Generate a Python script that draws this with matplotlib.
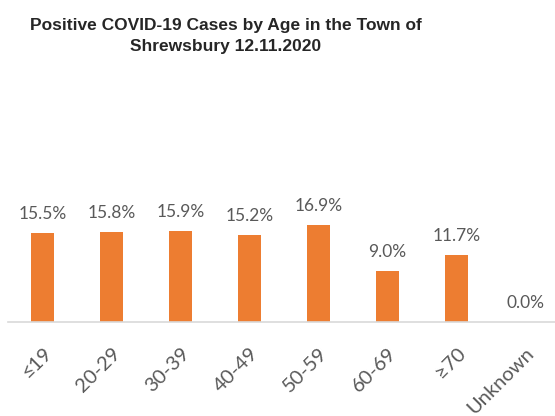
import matplotlib.pyplot as plt
import numpy as np

orange = "#ED7D31"
gray = "#595959"
lightgray = "#D9D9D9"

categories = ["≤19", "20-29", "30-39", "40-49", "50-59", "60-69", "≥70", "Unknown"]
values = [15.5, 15.8, 15.9, 15.2, 16.9, 9.0, 11.7, 0.0]

fig = plt.figure(figsize=(5.55, 4.16), dpi=100)
ax = fig.add_axes([8 / 555, 94 / 416, 552 / 555, 103 / 416])

x = np.arange(len(categories))
ax.bar(x, values, width=0.33, color=orange)

for xi, v in zip(x, values):
    ax.text(xi, v + 1.9, f"{v:.1f}%", ha="center", va="bottom",
            fontsize=12.5, color=gray, family="Lato")

ax.set_xlim(-0.5, 7.5)
ax.set_ylim(0, 18)
ax.set_xticks(x)
ax.set_xticklabels(categories, rotation=45, ha="right", rotation_mode="anchor",
                   fontsize=14.5, color=gray, family=["Lato", "DejaVu Sans"])
ax.tick_params(axis="x", length=0, pad=16)
ax.set_yticks([])
for s in ["top", "right", "left"]:
    ax.spines[s].set_visible(False)
ax.spines["bottom"].set_color(lightgray)
ax.spines["bottom"].set_linewidth(1.2)

fig.text(226 / 555, 1 - 36 / 416,
         "Positive COVID-19 Cases by Age in the Town of\nShrewsbury 12.11.2020",
         ha="center", va="center", fontsize=12.5, fontweight="bold",
         color="#262626", family="Liberation Sans", linespacing=1.5)

plt.savefig("out.png", dpi=100)
